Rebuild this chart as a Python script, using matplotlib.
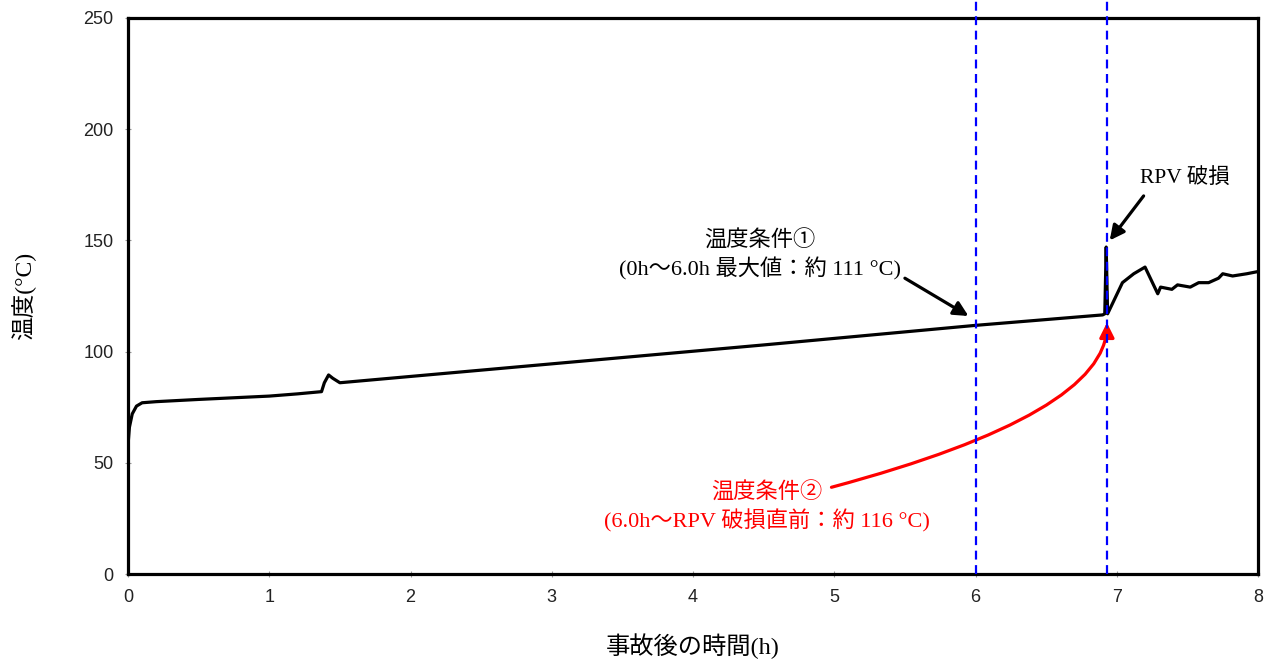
import matplotlib
matplotlib.use('Agg')
import matplotlib.pyplot as plt

# Temperature history
hours = [0.0, 0.01, 0.03, 0.06, 0.1, 0.2, 0.5, 1.0, 1.2, 1.37, 1.39, 1.42, 1.45, 1.5,
         3.0, 4.5, 6.0, 6.9, 6.915, 6.925, 6.935, 7.04, 7.12, 7.2, 7.29, 7.31, 7.39,
         7.43, 7.52, 7.58, 7.65, 7.72, 7.75, 7.82, 7.92, 8.0]
temps = [58, 66, 72, 75.5, 77, 77.5, 78.5, 80, 81, 82, 86, 89.5, 88, 86,
         94.5, 103, 111.8, 116.5, 117, 147, 117, 131, 135, 138, 126, 129, 128,
         130, 129, 131, 131, 133, 135, 134, 135, 136]

marker_hours = [6.0, 6.93]
xticks = [0, 1, 2, 3, 4, 5, 6, 7, 8]
yticks = [0, 50, 100, 150, 200, 250]

jp = ['Liberation Serif', 'Noto Sans CJK JP']

fig = plt.figure(figsize=(12.75, 6.66), dpi=100)
ax = fig.add_axes([0.1004, 0.1381, 0.8863, 0.8349])

ax.plot(hours, temps, color='black', lw=2.3, solid_joinstyle='round')

for h in marker_hours:
    ax.axvline(h, ymin=0, ymax=1.033, color='#0000ff', lw=1.6,
               linestyle=(0, (4, 2.5)), clip_on=False, zorder=5)

ax.set_xlim(0, 8)
ax.set_ylim(0, 250)
ax.set_xticks(xticks)
ax.set_yticks(yticks)
ax.tick_params(direction='inout', length=5, width=0.8, color='#999999',
               labelsize=13, labelcolor='#222222', pad=8)
for lab in ax.get_xticklabels() + ax.get_yticklabels():
    lab.set_family('Liberation Sans')
for sp in ax.spines.values():
    sp.set_linewidth(2.3)

ax.set_xlabel('事故後の時間(h)', family=jp, fontsize=17.5, labelpad=20)
ax.set_ylabel('温度(°C)', family=jp, fontsize=17, labelpad=34)

# annotation 1
ax.text(4.474, 143, '温度条件①\n(0h～6.0h 最大値：約 111 °C)', family=jp,
        fontsize=16, ha='center', va='center', linespacing=1.3)
ax.annotate('', xy=(5.95, 116), xytext=(5.5, 133),
            arrowprops=dict(arrowstyle='-|>', color='black', lw=2.3,
                            mutation_scale=22, shrinkA=0, shrinkB=0))

# RPV
ax.text(7.48, 178, 'RPV 破損', family=jp, fontsize=15.5, ha='center', va='center')
ax.annotate('', xy=(6.95, 150), xytext=(7.19, 170),
            arrowprops=dict(arrowstyle='-|>', color='black', lw=2.3,
                            mutation_scale=22, shrinkA=0, shrinkB=0))

# annotation 2 (red)
ax.text(4.52, 30, '温度条件②\n(6.0h～RPV 破損直前：約 116 °C)', family=jp,
        fontsize=16, ha='center', va='center', color='#ff0000', linespacing=1.3)
ax.annotate('', xy=(6.93, 113), xytext=(4.98, 39),
            arrowprops=dict(arrowstyle='-|>', color='#ff0000', lw=2.3,
                            mutation_scale=22, shrinkA=0, shrinkB=0,
                            connectionstyle='angle3,angleA=15,angleB=90'))

fig.savefig('out.png', dpi=100)
